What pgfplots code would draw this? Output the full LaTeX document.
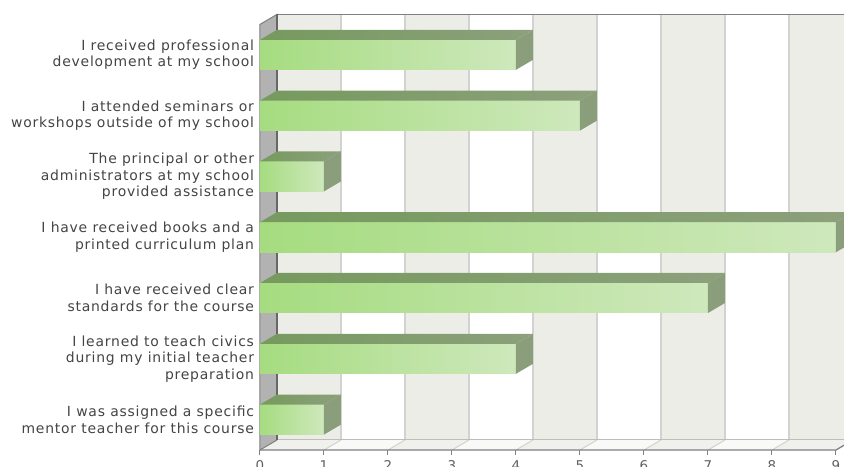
\documentclass[border=0pt]{standalone}
\usepackage{pgfplots}
\pgfplotsset{compat=1.18}
\usepackage{pgfplotstable}
\usepackage{fontspec}
\setmainfont{DejaVu Sans}[LetterSpace=5.5]

\definecolor{frontL}{RGB}{166,220,128}
\definecolor{frontR}{RGB}{206,232,188}
\definecolor{topL}{RGB}{118,154,94}
\definecolor{topR}{RGB}{140,160,124}
\definecolor{sideC}{RGB}{138,158,124}
\definecolor{wallgray}{RGB}{237,237,232}
\definecolor{floorgray}{RGB}{240,240,236}
\definecolor{gridc}{RGB}{210,210,208}
\definecolor{leftwall}{RGB}{178,178,178}
\definecolor{edgec}{RGB}{128,128,128}
\definecolor{labelc}{RGB}{68,68,68}

% pos = row from the bottom, v = number of answers
\pgfplotstableread{
pos v
6 4
5 5
4 1
3 9
2 7
1 4
0 1
}\answers

\pgfdeclareplotmark{nothing}{}

\begin{document}
\begin{tikzpicture}
\useasboundingbox (-260bp,-17bp) rectangle (584bp,450bp);
\clip (-260bp,-17bp) rectangle (584bp,450bp);
\begin{axis}[
    x=64bp, y=60.8bp,
    xmin=0, xmax=9, ymin=-0.5, ymax=6.5,
    clip=false,
    axis line style={draw=none},
    xtick={0,...,9},
    xtick pos=lower,
    tick align=outside,
    major tick length=5bp,
    xtick style={edgec, line width=1bp},
    ytick={0,...,6},
    ytick style={draw=none},
    yticklabels={
        {I was assigned a specific\\mentor teacher for this course},
        {I learned to teach civics\\during my initial teacher\\preparation},
        {I have received clear\\standards for the course},
        {I have received books and a\\printed curriculum plan},
        {The principal or other\\administrators at my school\\provided assistance},
        {I attended seminars or\\workshops outside of my school},
        {I received professional\\development at my school}},
    yticklabel style={align=right, font=\fontsize{14}{16.5}\selectfont,
        text=labelc, xshift=2.5bp},
    /pgf/number format/assume math mode=true,
    xticklabel style={font=\fontsize{13.5}{13.5}\selectfont, text=labelc!85, yshift=-2bp},
]
% floor
\fill[floorgray!40] (axis cs:0,-0.5) -- (axis cs:9,-0.5) -- ++(17bp,10bp) -- ++(-576bp,0bp) -- cycle;
% back wall and floor stripes
\pgfplotsinvokeforeach{0,2,4,6,8}{
  \fill[wallgray] ([xshift=17bp,yshift=10bp]axis cs:#1,-0.5) rectangle +(64bp,425.6bp);
  \fill[floorgray] (axis cs:#1,-0.5) -- ++(64bp,0bp) -- ++(17bp,10bp) -- ++(-64bp,0bp) -- cycle;
}
\pgfplotsinvokeforeach{1,...,9}{
  \draw[gridc, line width=1.2bp] ([xshift=17bp,yshift=10bp]axis cs:#1,-0.5) -- +(0bp,425.6bp);
  \draw[gridc, line width=1bp] (axis cs:#1,-0.5) -- +(17bp,10bp);
}
\draw[gridc!90!black, line width=1bp] ([xshift=17bp,yshift=10bp]axis cs:0,-0.5) -- +(600bp,0bp);
\draw[edgec, line width=1.6bp] ([xshift=17bp,yshift=10bp]axis cs:0,6.5) -- +(600bp,0bp);
% left wall
\filldraw[fill=leftwall, draw=edgec, line width=1bp]
  (axis cs:0,-0.5) -- ++(17bp,10bp) -- ++(0bp,425.6bp) -- ++(-17bp,-10bp) -- cycle;
\draw[edgec!80!black, line width=1.4bp] ([xshift=17bp,yshift=10bp]axis cs:0,-0.5) -- +(0bp,425.6bp);
% front floor edge
\draw[edgec, line width=1.2bp] (axis cs:0,-0.5) -- (axis cs:9,-0.5) -- ++(17bp,10bp);

% the bars
\addplot[xbar, bar width=30bp, draw=none, fill=frontL]
  table[x=v, y=pos] {\answers};
% shading of the front face, top and side faces
\addplot[only marks, scatter, mark=nothing,
  scatter/use mapped color={draw=none, fill=none},
  visualization depends on={\thisrow{v}\as\barval},
  scatter/@pre marker code/.code={
    \path[draw=none, left color=frontL, right color=frontR]
      (-\barval*64bp,-15bp) rectangle (0bp,15bp);
    \path[draw=none, left color=topL, right color=topR]
      (-\barval*64bp,15bp) -- (0bp,15bp) -- (17bp,25bp) -- (-\barval*64bp+17bp,25bp) -- cycle;
    \path[draw=none, fill=sideC] (0bp,-15bp) -- (17bp,-5bp) -- (17bp,25bp) -- (0bp,15bp) -- cycle;
  },
  scatter/@post marker code/.code={}]
  table[x=v, y=pos] {\answers};
\end{axis}
\end{tikzpicture}
\end{document}
